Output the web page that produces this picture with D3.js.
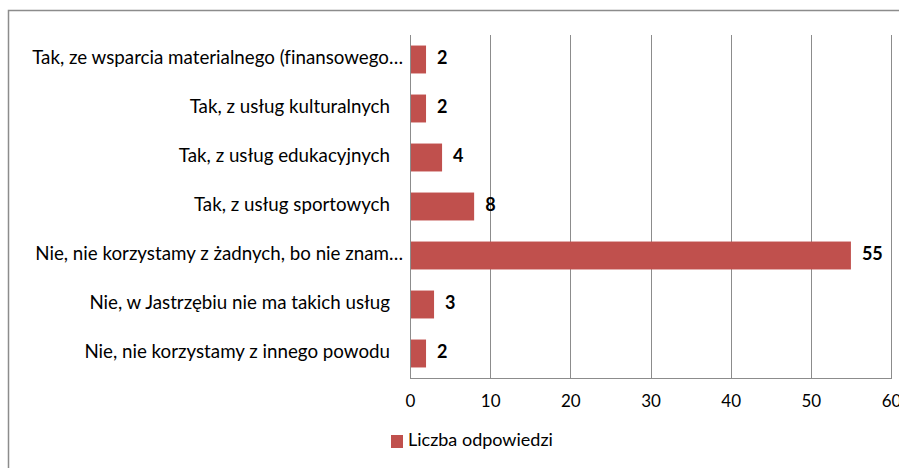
<!DOCTYPE html>
<html>
<head>
<meta charset="utf-8">
<script src="https://cdn.jsdelivr.net/npm/d3@7"></script>
<style>
  html, body { margin: 0; padding: 0; background: #fff; }
  svg { display: block; }
  text { font-family: Lato, "Open Sans", sans-serif; fill: #000; font-variant-ligatures: none; }
</style>
</head>
<body>
<svg id="chart" width="899" height="468"></svg>
<script>
// Answers and counts
const categories = [
  "Tak, ze wsparcia materialnego (finansowego…",
  "Tak, z usług kulturalnych",
  "Tak, z usług edukacyjnych",
  "Tak, z usług sportowych",
  "Nie, nie korzystamy z żadnych, bo nie znam…",
  "Nie, w Jastrzębiu nie ma takich usług",
  "Nie, nie korzystamy z innego powodu"
];
const values = [2, 2, 4, 8, 55, 3, 2];
const xTicks = [0, 10, 20, 30, 40, 50, 60];
const seriesName = "Liczba odpowiedzi";

const W = 899, H = 468;
const plot = { left: 410, right: 891, top: 35, bottom: 378 };
const barColor = "#c0504d";
const gridColor = "#8c8c8c";
const labelWidth = 371;   // room for the longest category label

const svg = d3.select("#chart");

// outer chart frame
svg.append("rect")
  .attr("x", 8.5).attr("y", 10.5)
  .attr("width", W + 20).attr("height", H + 20)
  .attr("fill", "none").attr("stroke", gridColor).attr("stroke-width", 1.5);

const x = d3.scaleLinear().domain([0, 60]).range([plot.left, plot.right]);
const y = d3.scaleBand().domain(categories).range([plot.top, plot.bottom]).paddingInner(0.43).paddingOuter(0.215);

// vertical gridlines
svg.append("g").selectAll("line").data(xTicks.slice(1)).join("line")
  .attr("x1", d => Math.round(x(d)) + 0.5).attr("x2", d => Math.round(x(d)) + 0.5)
  .attr("y1", plot.top).attr("y2", plot.bottom)
  .attr("stroke", gridColor).attr("stroke-width", 1);

// bars
svg.append("g").selectAll("rect").data(values).join("rect")
  .attr("x", x(0))
  .attr("y", (d, i) => y(categories[i]))
  .attr("width", d => x(d) - x(0))
  .attr("height", y.bandwidth())
  .attr("fill", barColor);

// axes lines
svg.append("line")
  .attr("x1", Math.round(x(0)) + 0.5).attr("x2", Math.round(x(0)) + 0.5)
  .attr("y1", plot.top).attr("y2", plot.bottom + 0.5)
  .attr("stroke", gridColor);
svg.append("line")
  .attr("x1", x(0)).attr("x2", Math.round(x(60)) + 1)
  .attr("y1", plot.bottom + 0.5).attr("y2", plot.bottom + 0.5)
  .attr("stroke", gridColor);

// x tick labels
const xAxis = d3.axisBottom(x).tickValues(xTicks).tickSize(0).tickPadding(0);
const gx = svg.append("g").attr("transform", `translate(0,${plot.bottom + 25})`).call(xAxis);
gx.select(".domain").remove();
gx.selectAll("text")
  .attr("dy", 0).attr("dominant-baseline", "middle")
  .style("font-family", "Lato, 'Open Sans', sans-serif")
  .style("font-size", "17px").attr("fill", "#000");

// category labels
const catLabels = svg.append("g").selectAll("text").data(categories).join("text")
  .attr("x", d => d.endsWith("…") ? x(0) - 7 : x(0) - 20)
  .attr("y", d => y(d) + y.bandwidth() / 2)
  .attr("text-anchor", "end")
  .attr("dominant-baseline", "middle")
  .style("font-size", "16px")
  .text(d => d);

// size the category font so the longest label fills its room
const longest = d3.max(catLabels.nodes(), n => n.getComputedTextLength());
const catSize = 16 * labelWidth / longest;
catLabels.style("font-size", catSize.toFixed(2) + "px");

// value labels
svg.append("g").selectAll("text").data(values).join("text")
  .attr("x", d => x(d) + 11)
  .attr("y", (d, i) => y(categories[i]) + y.bandwidth() / 2)
  .attr("dominant-baseline", "middle")
  .style("font-size", "18px").style("font-weight", "bold")
  .text(d => d);

// legend
const lg = svg.append("g").attr("transform", "translate(391,435)");
lg.append("rect").attr("width", 12).attr("height", 13).attr("fill", barColor);
lg.append("text").attr("x", 17).attr("y", 6.5)
  .attr("dominant-baseline", "middle").style("font-size", "18px").text(seriesName);
</script>
</body>
</html>
